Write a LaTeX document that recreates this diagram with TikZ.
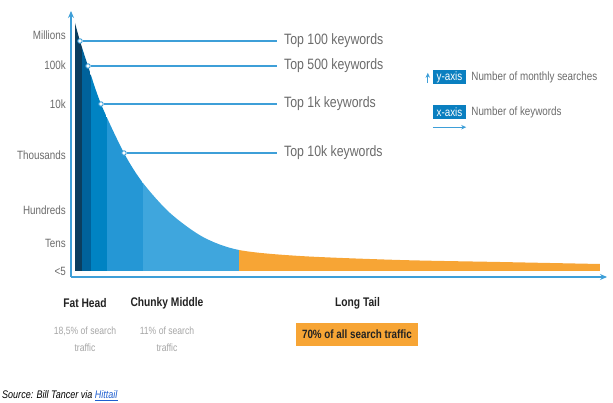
\documentclass[tikz,border=0pt]{standalone}
\usepackage{fontspec}
\setmainfont{Liberation Sans}[FakeStretch=0.82]
\usetikzlibrary{arrows.meta,positioning}

\definecolor{head1}{HTML}{0B3D5E}
\definecolor{head2}{HTML}{00629B}
\definecolor{head3}{HTML}{0083C3}
\definecolor{mid1}{HTML}{2597D5}
\definecolor{mid2}{HTML}{3FA6DD}
\definecolor{tailorange}{HTML}{F7A535}
\definecolor{axisblue}{HTML}{3E9FD8}
\definecolor{keyblue}{HTML}{0A7FC0}
\definecolor{txtgray}{HTML}{6B6B6B}
\definecolor{softgray}{HTML}{A6A6A6}
\definecolor{darktxt}{HTML}{222222}
\definecolor{linkblue}{HTML}{1F5FD0}

\tikzset{
  ylab/.style={anchor=east, text=txtgray, font=\fontsize{12}{12}\selectfont, inner sep=0pt},
  toplab/.style={anchor=west, text=txtgray, font=\fontsize{15}{15}\selectfont, inner xsep=7pt, inner ysep=0pt},
  dotnode/.style={circle, draw=axisblue, fill=white, line width=0.9pt, inner sep=0pt, minimum size=4.5pt},
  guide/.style={draw=axisblue, line width=1.3pt},
  keybox/.style={fill=keyblue, text=white, font=\fontsize{12}{12}\selectfont, minimum width=33pt, minimum height=14pt, inner sep=0pt},
  keytext/.style={text=txtgray, font=\fontsize{12}{12}\selectfont, inner sep=0pt},
  headlab/.style={text=darktxt, font=\bfseries\fontsize{12.5}{12.5}\selectfont, inner sep=0pt},
  sharelab/.style={text=softgray, font=\fontsize{10.5}{17}\selectfont, align=center, inner sep=0pt}
}

\begin{document}
\begin{tikzpicture}[x=1pt,y=-1pt]

\useasboundingbox (0,0) rectangle (613,403);

\begin{scope}
\clip (75,271) -- plot[smooth] coordinates {(75,23) (80,41) (88,66) (101,104) (124,153) (143,183) (170,213) (203,237) (239,250) (300,256) (400,260) (500,262) (600,264)} -- (600,271) -- cycle;
\fill[head1] (75,0) rectangle (82,271);
\fill[head2] (82,0) rectangle (91,271);
\fill[head3] (91,0) rectangle (107,271);
\fill[mid1] (107,0) rectangle (143,271);
\fill[mid2] (143,0) rectangle (239,271);
\fill[tailorange] (239,0) rectangle (600,271);
\end{scope}

\coordinate (origin) at (71,277);
\coordinate (ytop) at (71,11);
\coordinate (xend) at (607,277);
\draw[guide, -{Stealth[length=7pt,width=6pt]}] (origin) -- (ytop);
\draw[guide, -{Stealth[length=7pt,width=6pt]}] (origin) -- (xend);

\node[ylab] (ymil) at (66,35) {Millions};
\node[ylab] (y100k) at (66,65) {100k};
\node[ylab] (y10k) at (66,104) {10k};
\node[ylab] (ythou) at (66,155) {Thousands};
\node[ylab] (yhund) at (66,210) {Hundreds};
\node[ylab] (ytens) at (66,243) {Tens};
\node[ylab] (yfive) at (66,271) {<5};

\node[toplab] (t100) at (277,41) {Top 100 keywords};
\node[toplab] (t500) at (277,66) {Top 500 keywords};
\node[toplab] (t1k) at (277,104) {Top 1k keywords};
\node[toplab] (t10k) at (277,153) {Top 10k keywords};

\node[dotnode] (d100) at (80,41) {};
\node[dotnode] (d500) at (88,66) {};
\node[dotnode] (d1k) at (101,104) {};
\node[dotnode] (d10k) at (124,153) {};

\draw[guide] (d100) -- (t100);
\draw[guide] (d500) -- (t500);
\draw[guide] (d1k) -- (t1k);
\draw[guide] (d10k) -- (t10k);

\node[keybox] (ykey) at (449.5,77) {y-axis};
\node[keytext, right=5pt of ykey] (ytext) {Number of monthly searches};
\node[keybox] (xkey) at (449.5,112) {x-axis};
\node[keytext, right=5pt of xkey] (xtext) {Number of keywords};
\coordinate[left=5pt of ykey.south west] (yarr0);
\coordinate[left=5pt of ykey.north west] (yarr1);
\draw[guide, line width=1.1pt, -{Stealth[length=5pt,width=4.5pt]}] ([yshift=1pt]yarr0) -- ([yshift=-3pt]yarr1);
\coordinate[below=8pt of xkey.south west] (xarr0);
\coordinate[below=8pt of xkey.south east] (xarr1);
\draw[guide, line width=1.1pt, -{Stealth[length=5pt,width=4.5pt]}] (xarr0) -- (xarr1);

\node[headlab] (fat) at (85,303) {Fat Head};
\node[headlab] (chunky) at (167,303) {Chunky Middle};
\node[headlab] (longtail) at (357.5,303) {Long Tail};
\node[sharelab] (fatshare) at (85,339) {18,5\% of search\\traffic};
\node[sharelab] (chunkyshare) at (167,339) {11\% of search\\traffic};
\node[fill=tailorange, text=darktxt, font=\bfseries\fontsize{12}{12}\selectfont, minimum width=122pt, minimum height=23pt, inner sep=0pt] (tailshare) at (357,334.5) {70\% of all search traffic};

\node[anchor=west, inner sep=0pt, font=\itshape\fontsize{11}{11}\selectfont] (source) at (2,396) {Source: Bill Tancer via \textcolor{linkblue}{\underline{Hittail}}};

\end{tikzpicture}
\end{document}
